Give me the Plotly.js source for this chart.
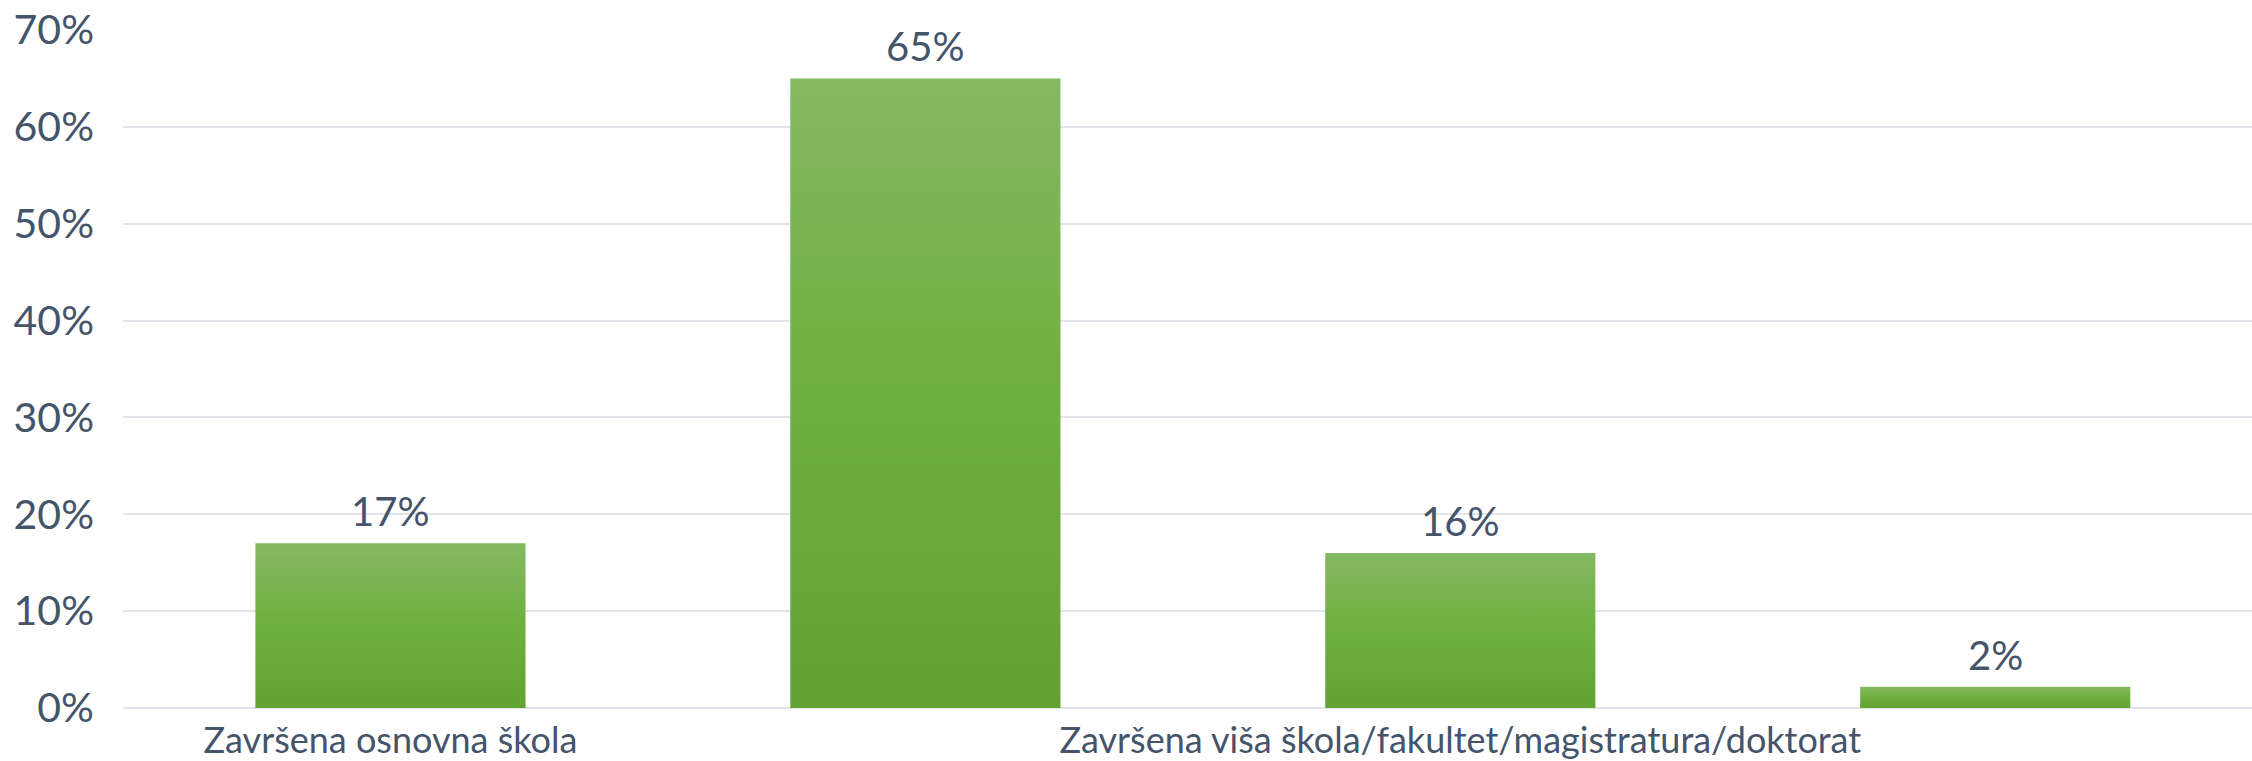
<!DOCTYPE html>
<html>
<head>
<meta charset="utf-8">
<script src="https://cdn.plot.ly/plotly-3.0.1.min.js"></script>
<style>
  html, body { margin: 0; padding: 0; background: #fff; }
  #chart { width: 2252px; height: 761px; }
</style>
</head>
<body>
<div id="chart"></div>
<script>
// categories on the x axis (2nd and 4th label are not shown in the original)
const categories = ['osnovna', 'srednja', 'visa', 'ostalo'];
const tickLabels = ['Završena osnovna škola', '', 'Završena viša škola/fakultet/magistratura/doktorat', ''];
const shares = [17, 65, 16, 2.2]; // percent

const textColor = '#44546A';
const gridColor = '#E1E5EB';

const trace = {
    x: categories,
    y: shares,
    type: 'bar',
    marker: { color: '#6FB040' },
    hoverinfo: 'none'
};

// value labels above the bars
const labels = categories.map(function(c, i) {
    return {
        x: c,
        y: shares[i],
        text: Math.round(shares[i]) + '%',
        showarrow: false,
        yanchor: 'bottom',
        yshift: 6,
        font: { family: 'Lato, sans-serif', size: 40, color: textColor }
    };
});

const layout = {
    width: 2252,
    height: 761,
    margin: { l: 123, r: 0, t: 30, b: 53 },
    paper_bgcolor: '#fff',
    plot_bgcolor: '#fff',
    font: { family: 'Lato, sans-serif', color: textColor },
    showlegend: false,
    bargap: 0.495,
    annotations: labels,
    xaxis: {
        type: 'category',
        range: [-0.5, 3.48],
        tickvals: categories,
        ticktext: tickLabels,
        tickfont: { size: 36, color: textColor },
        showgrid: false,
        showline: false,
        ticks: '',
        tickangle: 0,
        ticklabelstandoff: 8
    },
    yaxis: {
        range: [0, 70],
        dtick: 10,
        ticksuffix: '%',
        tickfont: { size: 41, color: textColor },
        gridcolor: gridColor,
        gridwidth: 2,
        zeroline: true,
        zerolinecolor: gridColor,
        zerolinewidth: 2,
        showline: false,
        ticks: '',
        ticklabelstandoff: 28
    }
};

Plotly.newPlot('chart', [trace], layout, { staticPlot: true }).then(function(gd) {
    // vertical gradient on the bars, like the original
    const svg = gd.querySelector('svg.main-svg');
    const ns = 'http://www.w3.org/2000/svg';
    const defs = svg.querySelector('defs') || svg.insertBefore(document.createElementNS(ns, 'defs'), svg.firstChild);
    const grad = document.createElementNS(ns, 'linearGradient');
    grad.setAttribute('id', 'barGrad');
    grad.setAttribute('x1', '0'); grad.setAttribute('y1', '0');
    grad.setAttribute('x2', '0'); grad.setAttribute('y2', '1');
    [['0', '#84B862'], ['0.5', '#6EB03F'], ['1', '#62A233']].forEach(function(s) {
        const stop = document.createElementNS(ns, 'stop');
        stop.setAttribute('offset', s[0]);
        stop.setAttribute('stop-color', s[1]);
        grad.appendChild(stop);
    });
    defs.appendChild(grad);
    gd.querySelectorAll('.bars .point path').forEach(function(p) {
        p.style.fill = 'url(#barGrad)';
    });
});
</script>
</body>
</html>
